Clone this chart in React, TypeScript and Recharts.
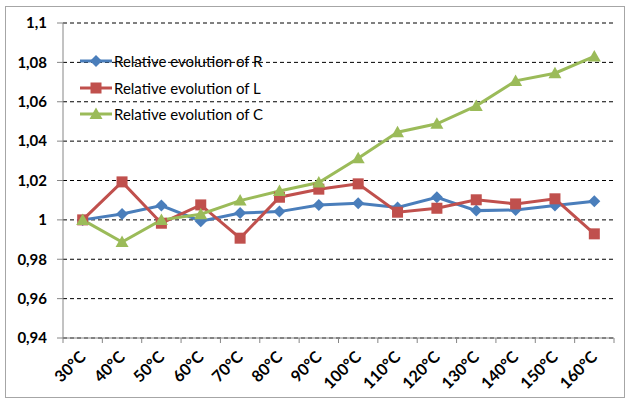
import React from "react";
import { LineChart, Line, XAxis, YAxis, CartesianGrid } from "recharts";

const CATEGORIES = [
  "30°C", "40°C", "50°C", "60°C", "70°C", "80°C", "90°C",
  "100°C", "110°C", "120°C", "130°C", "140°C", "150°C", "160°C",
];
const R_VALUES = [1.0, 1.003, 1.0073, 0.9993, 1.0035, 1.0042, 1.0076, 1.0085, 1.0063, 1.0115, 1.0047, 1.005, 1.0073, 1.0095];
const L_VALUES = [1.0, 1.0193, 0.9983, 1.0076, 0.9907, 1.0115, 1.0156, 1.0183, 1.0039, 1.0059, 1.0102, 1.0081, 1.0107, 0.9929];
const C_VALUES = [1.0, 0.9887, 1.0, 1.0029, 1.0098, 1.0147, 1.019, 1.0313, 1.0445, 1.0488, 1.0579, 1.0706, 1.0745, 1.083];
const Y_TICKS = [0.94, 0.96, 0.98, 1, 1.02, 1.04, 1.06, 1.08, 1.1];

const SERIES = [
  { key: "R", name: "Relative evolution of R", color: "#4a7ebb", shape: "diamond" },
  { key: "L", name: "Relative evolution of L", color: "#c0504d", shape: "square" },
  { key: "C", name: "Relative evolution of C", color: "#9bbb59", shape: "triangle" },
];

const data = CATEGORIES.map((cat, i) => ({
  cat,
  R: R_VALUES[i],
  L: L_VALUES[i],
  C: C_VALUES[i],
}));

const WIDTH = 626;
const HEIGHT = 402;
const LEFT = 63;
const RIGHT = 12;
const BAND = (WIDTH - LEFT - RIGHT) / CATEGORIES.length;
const FONT = "Lato, 'Open Sans', sans-serif";
const AXIS_GRAY = "#868686";

function Marker({ shape, cx, cy, color }: any) {
  if (cx == null || cy == null) return null;
  if (shape === "diamond") {
    return (
      <polygon
        points={`${cx},${cy - 6} ${cx + 6},${cy} ${cx},${cy + 6} ${cx - 6},${cy}`}
        fill={color}
      />
    );
  }
  if (shape === "square") {
    return <rect x={cx - 5.5} y={cy - 5.5} width={11} height={11} fill={color} />;
  }
  return (
    <polygon
      points={`${cx},${cy - 6.5} ${cx + 6.5},${cy + 5} ${cx - 6.5},${cy + 5}`}
      fill={color}
    />
  );
}

function XTick({ x, y, payload, index }: any) {
  const last = index === CATEGORIES.length - 1;
  const tx = x + 4;
  const ty = y + 20;
  return (
    <g>
      <line x1={x - BAND / 2} y1={y} x2={x - BAND / 2} y2={y + 5} stroke={AXIS_GRAY} />
      {last && (
        <line x1={x + BAND / 2} y1={y} x2={x + BAND / 2} y2={y + 5} stroke={AXIS_GRAY} />
      )}
      <text
        x={tx}
        y={ty}
        textAnchor="end"
        transform={`rotate(-45, ${tx}, ${ty})`}
        fontFamily={FONT}
        fontWeight="bold"
        fontSize={16}
        fill="#000"
      >
        {payload.value}
      </text>
    </g>
  );
}

function LegendBox() {
  return (
    <div style={{ position: "absolute", left: 80, top: 48 }}>
      {SERIES.map((s) => (
        <div key={s.key} style={{ display: "flex", alignItems: "center", height: 26.5 }}>
          <svg width={34} height={14}>
            <line x1={0} y1={7} x2={32} y2={7} stroke={s.color} strokeWidth={3} />
            <Marker shape={s.shape} cx={16} cy={7} color={s.color} />
          </svg>
          <span style={{ fontFamily: FONT, fontSize: 15, color: "#000", whiteSpace: "nowrap" }}>
            {s.name}
          </span>
        </div>
      ))}
    </div>
  );
}

export default function App() {
  return (
    <div style={{ position: "absolute", left: 0, top: 0, width: WIDTH, height: HEIGHT, background: "#fff" }}>
      <div
        style={{
          position: "absolute",
          left: 5,
          top: 6,
          width: 620,
          height: 392,
          border: "1px solid #a6a6a6",
          boxSizing: "border-box",
        }}
      />
      <LineChart
        width={WIDTH}
        height={HEIGHT}
        data={data}
        margin={{ top: 23, right: RIGHT, bottom: 4, left: 0 }}
      >
        <CartesianGrid vertical={false} stroke="#000" strokeDasharray="4 3" />
        <XAxis
          dataKey="cat"
          height={60}
          interval={0}
          padding={{ left: BAND / 2, right: BAND / 2 }}
          tickSize={0}
          tickMargin={0}
          tickLine={false}
          axisLine={{ stroke: AXIS_GRAY }}
          tick={<XTick />}
        />
        <YAxis
          width={LEFT}
          domain={[0.94, 1.1]}
          ticks={Y_TICKS}
          interval={0}
          tickSize={6}
          tickMargin={10}
          axisLine={{ stroke: AXIS_GRAY }}
          tickLine={{ stroke: AXIS_GRAY }}
          tickFormatter={(v: number) => String(v).replace(".", ",")}
          tick={{ fontFamily: FONT, fontWeight: "bold", fontSize: 15, fill: "#000" }}
        />
        {SERIES.map((s) => (
          <Line
            key={s.key}
            dataKey={s.key}
            name={s.name}
            stroke={s.color}
            strokeWidth={3}
            isAnimationActive={false}
            dot={(p: any) => (
              <Marker key={`${s.key}-${p.index}`} shape={s.shape} cx={p.cx} cy={p.cy} color={s.color} />
            )}
            activeDot={false}
          />
        ))}
      </LineChart>
      <LegendBox />
    </div>
  );
}
